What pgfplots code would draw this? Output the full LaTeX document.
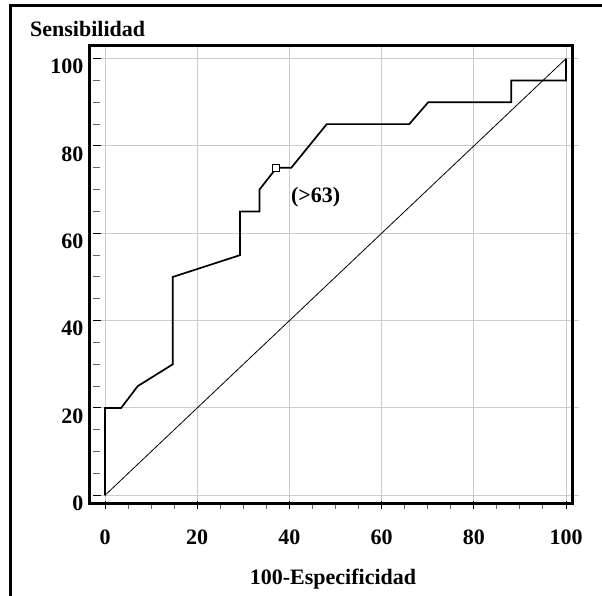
\documentclass[border=0pt]{standalone}
\usepackage{fontspec}
\setmainfont{Liberation Serif}
\usepackage{pgfplots}
\pgfplotsset{compat=1.18}
\begin{document}
\begin{tikzpicture}[x=1bp,y=1bp]
\useasboundingbox (0,0) rectangle (602,596);
% outer frame (left and top visible)
\draw[line width=3bp] (10,-5) -- (10,590) -- (610,590);
\node[anchor=base west, inner sep=0, font=\fontsize{22bp}{26bp}\selectfont\bfseries] at (30,559) {Sensibilidad};
\node[anchor=base, inner sep=0, font=\fontsize{22bp}{26bp}\selectfont\bfseries] at (333,11) {100-Especificidad};
\begin{axis}[
  at={(93bp,87bp)}, anchor=south west,
  scale only axis, width=486bp, height=463bp,
  xmin=-2.603, xmax=102.82, ymin=-3.14, ymax=102.9,
  axis line style={draw=none},
  xtick={0,20,...,100}, ytick={0,20,...,100},
  minor x tick num=3, minor y tick num=3,
  xtick pos=bottom, ytick pos=left,
  tick align=inside,
  major tick length=8bp, minor tick length=7bp,
  major tick style={black, line width=1bp},
  minor tick style={black!60, line width=1bp},
  grid=major,
  major grid style={line width=1bp, color=black!20},
  /pgf/number format/assume math mode=true,
  tick label style={font=\fontsize{22bp}{26bp}\selectfont\bfseries},
  yticklabel style={xshift=-6bp, yshift=-8bp},
  xticklabel style={yshift=-17bp},
  clip=false,
]
\draw[line width=3bp, black] (axis cs:-3.47,-1.77) rectangle (axis cs:101.5,102.9);
\addplot[black, line width=0.8bp] coordinates {(0,0) (100,100)};
\addplot[black, line width=1.7bp] coordinates {
(0,0) (0,20) (3.5,20) (7.1,25) (14.7,30) (14.7,50) (29.3,55) (29.3,65) (33.5,65) (33.5,70) (37.2,75) (40.4,75) (48.1,85) (66,85) (70.1,90) (88.1,90) (88.1,95) (100,95) (100,100)};
\addplot[only marks, mark=square*, mark size=3.5bp, mark options={fill=white, draw=black, line width=1bp}] coordinates {(37.2,75)};
\node[font=\fontsize{22bp}{26bp}\selectfont\bfseries] at (axis cs:45.7,68.3) {(>63)};
\end{axis}
\end{tikzpicture}
\end{document}
